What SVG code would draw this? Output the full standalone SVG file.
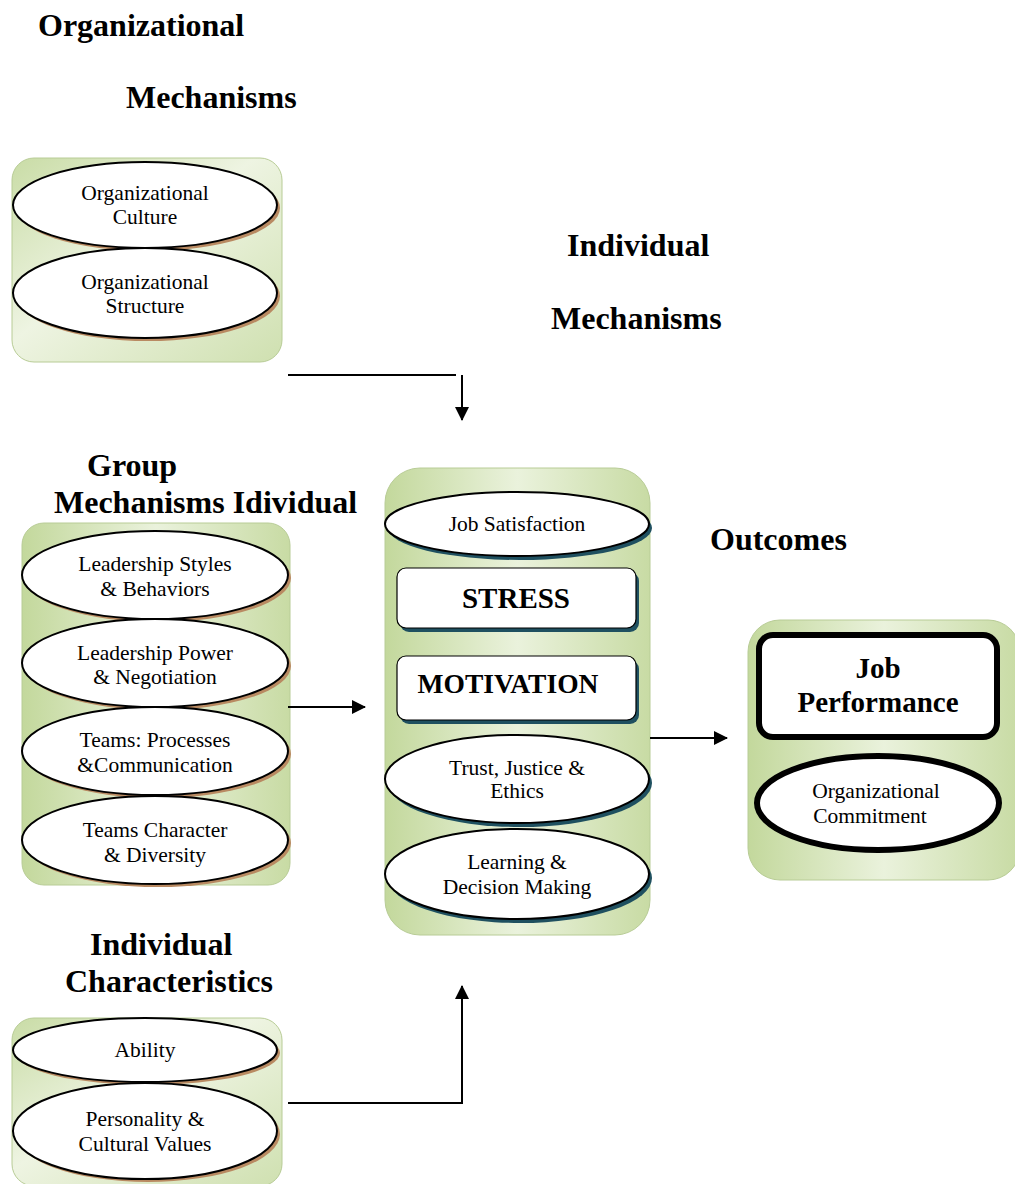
<svg xmlns="http://www.w3.org/2000/svg" width="1015" height="1184" viewBox="0 0 1015 1184">
<defs>
<linearGradient id="g" x1="0" y1="0" x2="1" y2="1">
<stop offset="0" stop-color="#c9dca6"/>
<stop offset="0.45" stop-color="#eef4e2"/>
<stop offset="1" stop-color="#cfe0b0"/>
</linearGradient>
<linearGradient id="g2" x1="0" y1="0" x2="1" y2="0">
<stop offset="0" stop-color="#c3d89c"/>
<stop offset="0.5" stop-color="#eaf2dc"/>
<stop offset="1" stop-color="#c8dba4"/>
</linearGradient>
<marker id="ah" markerWidth="14" markerHeight="14" refX="13" refY="7" orient="auto" markerUnits="userSpaceOnUse">
<path d="M0,0 L14,7 L0,14 Z" fill="#000"/>
</marker>
<style>
.h{font-family:"Liberation Serif",serif;font-weight:bold;font-size:32px;fill:#000}
.t{font-family:"Liberation Serif",serif;font-size:21.5px;fill:#000;text-anchor:middle}
.b{font-family:"Liberation Serif",serif;font-weight:bold;font-size:29px;fill:#000;text-anchor:middle}
.pan{stroke:#b8cc96;stroke-width:1}
.el{fill:#fff;stroke:#000;stroke-width:2}
.shb{fill:#b98a62}
.sht{fill:#1f5060}
.c{fill:none;stroke:#000;stroke-width:2}
</style>
</defs>

<g id="headings">
<text class="h" x="38" y="36">Organizational</text>
<text class="h" x="126" y="108">Mechanisms</text>
<text class="h" x="567" y="256">Individual</text>
<text class="h" x="551" y="329">Mechanisms</text>
<text class="h" x="87" y="476">Group</text>
<text class="h" x="54" y="513">Mechanisms Idividual</text>
<text class="h" x="710" y="550">Outcomes</text>
<text class="h" x="90" y="955">Individual</text>
<text class="h" x="65" y="992">Characteristics</text>
</g>

<g id="org-mechanisms">
<rect class="pan" x="12" y="158" width="270" height="204" rx="22" fill="url(#g)"/>
<ellipse class="shb" cx="148" cy="208" rx="132" ry="43"/>
<ellipse class="el" cx="145" cy="205" rx="132" ry="43"/>
<text class="t" x="145" y="200">Organizational</text>
<text class="t" x="145" y="224">Culture</text>
<ellipse class="shb" cx="148" cy="296" rx="132" ry="45"/>
<ellipse class="el" cx="145" cy="293" rx="132" ry="45"/>
<text class="t" x="145" y="289">Organizational</text>
<text class="t" x="145" y="313">Structure</text>
</g>

<g id="group-mechanisms">
<rect class="pan" x="22" y="523" width="268" height="362" rx="22" fill="url(#g2)"/>
<ellipse class="shb" cx="158" cy="578" rx="133" ry="44"/>
<ellipse class="el" cx="155" cy="575" rx="133" ry="44"/>
<text class="t" x="155" y="571">Leadership Styles</text>
<text class="t" x="155" y="596">&amp; Behaviors</text>
<ellipse class="shb" cx="158" cy="666" rx="133" ry="44"/>
<ellipse class="el" cx="155" cy="663" rx="133" ry="44"/>
<text class="t" x="155" y="660">Leadership Power</text>
<text class="t" x="155" y="684">&amp; Negotiation</text>
<ellipse class="shb" cx="158" cy="754" rx="133" ry="44"/>
<ellipse class="el" cx="155" cy="751" rx="133" ry="44"/>
<text class="t" x="155" y="747">Teams: Processes</text>
<text class="t" x="155" y="772">&amp;Communication</text>
<ellipse class="shb" cx="158" cy="843" rx="133" ry="44"/>
<ellipse class="el" cx="155" cy="840" rx="133" ry="44"/>
<text class="t" x="155" y="837">Teams Character</text>
<text class="t" x="155" y="862">&amp; Diversity</text>
</g>

<g id="individual-mechanisms">
<rect class="pan" x="385" y="468" width="265" height="467" rx="35" fill="url(#g2)"/>
<ellipse class="sht" cx="520" cy="528" rx="132" ry="32"/>
<ellipse class="el" cx="517" cy="524" rx="132" ry="32" stroke-width="1.5"/>
<text class="t" x="517" y="531">Job Satisfaction</text>
<rect class="sht" x="400" y="572" width="239" height="60" rx="9"/>
<rect x="397" y="568" width="239" height="60" rx="9" fill="#fff" stroke="#000" stroke-width="1.2"/>
<text class="b" x="516" y="608">STRESS</text>
<rect class="sht" x="400" y="660" width="239" height="64" rx="9"/>
<rect x="397" y="656" width="239" height="64" rx="9" fill="#fff" stroke="#000" stroke-width="1.2"/>
<text class="b" x="508" y="693" style="font-size:27.5px">MOTIVATION</text>
<ellipse class="sht" cx="520" cy="783" rx="132" ry="44"/>
<ellipse class="el" cx="517" cy="779" rx="132" ry="44" stroke-width="1.5"/>
<text class="t" x="517" y="775">Trust, Justice &amp;</text>
<text class="t" x="517" y="798">Ethics</text>
<ellipse class="sht" cx="520" cy="878" rx="132" ry="45"/>
<ellipse class="el" cx="517" cy="874" rx="132" ry="45" stroke-width="1.5"/>
<text class="t" x="517" y="869">Learning &amp;</text>
<text class="t" x="517" y="894">Decision Making</text>
</g>

<g id="outcomes">
<rect class="pan" x="748" y="620" width="272" height="260" rx="32" fill="url(#g2)"/>
<rect x="759" y="635" width="238" height="102" rx="14" fill="#fff" stroke="#000" stroke-width="6"/>
<text class="b" x="878" y="678">Job</text>
<text class="b" x="878" y="712">Performance</text>
<ellipse cx="878" cy="803" rx="121" ry="47" fill="#fff" stroke="#000" stroke-width="6"/>
<text class="t" x="876" y="798">Organizational</text>
<text class="t" x="870" y="823">Commitment</text>
</g>

<g id="individual-characteristics">
<rect class="pan" x="12" y="1018" width="270" height="168" rx="22" fill="url(#g)"/>
<ellipse class="shb" cx="148" cy="1053" rx="132" ry="32"/>
<ellipse class="el" cx="145" cy="1050" rx="132" ry="32"/>
<text class="t" x="145" y="1057">Ability</text>
<ellipse class="shb" cx="148" cy="1134" rx="132" ry="48"/>
<ellipse class="el" cx="145" cy="1131" rx="132" ry="48"/>
<text class="t" x="145" y="1126">Personality &amp;</text>
<text class="t" x="145" y="1151">Cultural Values</text>
</g>

<g id="connectors">
<line class="c" x1="288" y1="375" x2="456" y2="375"/>
<line class="c" x1="462" y1="375" x2="462" y2="420" marker-end="url(#ah)"/>
<line class="c" x1="288" y1="707" x2="365" y2="707" marker-end="url(#ah)"/>
<line class="c" x1="650" y1="738" x2="727" y2="738" marker-end="url(#ah)"/>
<line class="c" x1="288" y1="1103" x2="463" y2="1103"/>
<line class="c" x1="462" y1="1103" x2="462" y2="986" marker-end="url(#ah)"/>
</g>
</svg>
